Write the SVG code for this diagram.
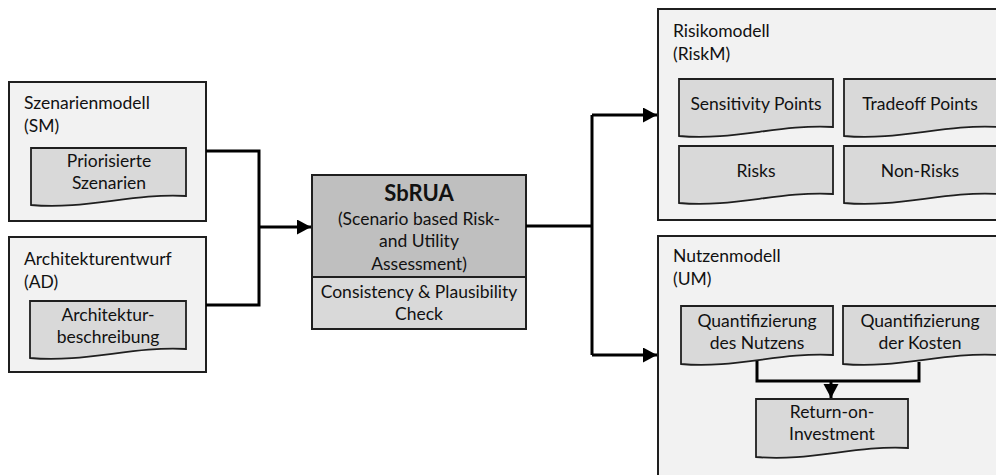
<svg xmlns="http://www.w3.org/2000/svg" width="996" height="475" viewBox="0 0 996 475">
  <style>
    .model { fill: #f2f2f2; stroke: #1f1f1f; stroke-width: 2; }
    .doc { fill: #d9d9d9; stroke: #1f1f1f; stroke-width: 1.8; }
    .core { fill: #bfbfbf; stroke: #1f1f1f; stroke-width: 2; }
    .check { fill: #d9d9d9; stroke: #1f1f1f; stroke-width: 2; }
    .wire { fill: none; stroke: #000; stroke-width: 3; }
    text { font-family: Lato, "Liberation Sans", sans-serif; font-size: 17.5px; fill: #111; }
    .c { text-anchor: middle; }
    .title { font-weight: bold; font-size: 22px; }
  </style>
  <defs>
    <marker id="arrow" markerUnits="userSpaceOnUse" markerWidth="15" markerHeight="16" refX="14" refY="7.5" orient="auto">
      <path d="M0,0 L14,7.5 L0,15 Z" fill="#000"/>
    </marker>
  </defs>

  <rect width="996" height="475" fill="#ffffff"/>

  <!-- Szenarienmodell -->
  <g id="sm">
    <rect class="model" x="9" y="82" width="197" height="139"/>
    <text x="24" y="109">Szenarienmodell</text>
    <text x="24" y="132">(SM)</text>
    <path class="doc" d="M31,148 H186 V196 C132,193 85,210 31,205 Z"/>
    <text class="c" x="109" y="167">Priorisierte</text>
    <text class="c" x="109" y="189">Szenarien</text>
  </g>

  <!-- Architekturentwurf -->
  <g id="ad">
    <rect class="model" x="9" y="237" width="197" height="135"/>
    <text x="24" y="265">Architekturentwurf</text>
    <text x="24" y="288">(AD)</text>
    <path class="doc" d="M30,301 H186 V349 C132,346 85,363 30,358 Z"/>
    <text class="c" x="108" y="321">Architektur-</text>
    <text class="c" x="108" y="343">beschreibung</text>
  </g>

  <!-- SbRUA -->
  <g id="sbrua">
    <rect class="core" x="312" y="175" width="214" height="102"/>
    <rect class="check" x="312" y="277" width="214" height="52"/>
    <text class="c title" x="419" y="201">SbRUA</text>
    <text class="c" x="419" y="225">(Scenario based Risk-</text>
    <text class="c" x="419" y="247">and Utility</text>
    <text class="c" x="419" y="270">Assessment)</text>
    <text class="c" x="419" y="298">Consistency &amp; Plausibility</text>
    <text class="c" x="419" y="320">Check</text>
  </g>

  <!-- Risikomodell -->
  <g id="riskm">
    <rect class="model" x="658" y="9" width="345" height="211"/>
    <text x="673" y="37">Risikomodell</text>
    <text x="673" y="60">(RiskM)</text>
    <path class="doc" d="M679,79 H833 V127 C779,124 733,141 679,136 Z"/>
    <text class="c" x="756" y="110">Sensitivity Points</text>
    <path class="doc" d="M844,79 H998 V127 C944,124 898,141 844,136 Z"/>
    <text class="c" x="920" y="110">Tradeoff Points</text>
    <path class="doc" d="M679,146 H833 V194 C779,191 733,208 679,203 Z"/>
    <text class="c" x="756" y="177">Risks</text>
    <path class="doc" d="M844,146 H998 V194 C944,191 898,208 844,203 Z"/>
    <text class="c" x="920" y="177">Non-Risks</text>
  </g>

  <!-- Nutzenmodell -->
  <g id="um">
    <rect class="model" x="658" y="236" width="345" height="250"/>
    <text x="673" y="262">Nutzenmodell</text>
    <text x="673" y="285">(UM)</text>
    <path class="doc" d="M681,306 H833 V355 C780,352 734,369 681,364 Z"/>
    <text class="c" x="757" y="327">Quantifizierung</text>
    <text class="c" x="757" y="349">des Nutzens</text>
    <path class="doc" d="M843,306 H998 V355 C944,352 897,369 843,364 Z"/>
    <text class="c" x="920" y="327">Quantifizierung</text>
    <text class="c" x="920" y="349">der Kosten</text>
    <path class="doc" d="M756,399 H908 V448 C855,445 809,462 756,457 Z"/>
    <text class="c" x="832" y="418">Return-on-</text>
    <text class="c" x="832" y="440">Investment</text>
  </g>

  <!-- Connectors -->
  <g id="connectors">
    <path class="wire" d="M206,151 H259 V305 H206"/>
    <path class="wire" d="M259,227 H311" marker-end="url(#arrow)"/>
    <path class="wire" d="M526,226 H592"/>
    <path class="wire" d="M592,115 V355"/>
    <path class="wire" d="M592,115 H657" marker-end="url(#arrow)"/>
    <path class="wire" d="M592,355 H657" marker-end="url(#arrow)"/>
    <path class="wire" d="M757,361 V381 H919 V362"/>
    <path class="wire" d="M831,381 V398" marker-end="url(#arrow)"/>
  </g>
</svg>
